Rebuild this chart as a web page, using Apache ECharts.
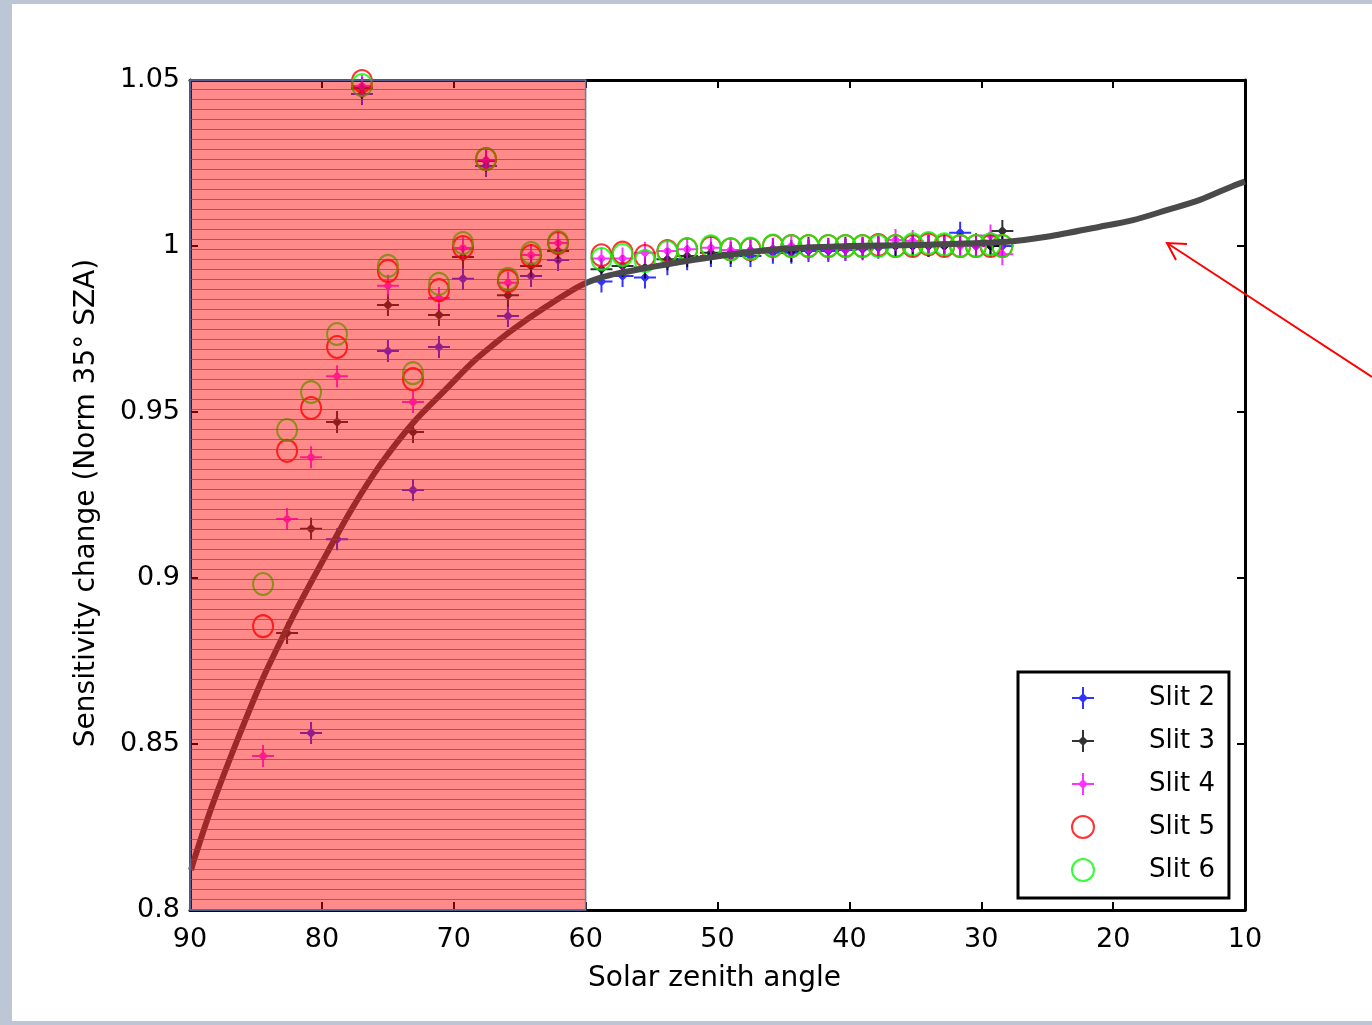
<!DOCTYPE html>
<html><head><meta charset="utf-8">
<script src="https://cdn.jsdelivr.net/npm/echarts@6/dist/echarts.min.js"></script>
<style>
html,body{margin:0;padding:0;width:1372px;height:1025px;overflow:hidden;background:#bcc6d4;}
#panel{position:absolute;left:12px;top:4px;width:1360px;height:1017px;background:#fff;}
#chart{position:absolute;left:0;top:0;width:1372px;height:1025px;}
</style></head><body><div id="panel"></div><div id="chart"></div>
<script>
// Solar zenith angle columns (deg)
const sza = [84.46, 82.64, 80.82, 78.85, 76.96, 74.99, 73.09, 71.12, 69.30, 67.55, 65.89, 64.14, 62.09,
  58.8, 57.2, 55.5, 53.8, 52.3, 50.5, 49.0, 47.5, 45.8, 44.4, 43.1, 41.6, 40.3, 39.0, 37.8, 36.5, 35.2, 34.0, 32.8, 31.6, 30.4, 29.3, 28.4];
const slit2 = [null, null, 0.8533, 0.9117, 1.0458, 0.9684, 0.9265, 0.9696, 0.9901, 1.0241, 0.9789, 0.9910, 0.9958,
  0.9893, 0.991, 0.9905, 0.9945, 0.996, 0.997, 0.997, 0.997, 0.998, 0.998, 0.9985, 0.9985, 0.9988, 0.999, 0.9995, 1.0, 1.0, 1.0, 1.0, 1.004, 1.0, 1.0, 1.0];
const slit3 = [null, 0.8834, 0.9148, 0.9470, 1.0476, 0.9822, 0.9440, 0.9792, 0.9967, 1.0256, 0.9852, 0.9940, 0.9985,
  0.993, 0.994, 0.9935, 0.996, 0.997, 0.998, 0.998, 0.9985, 0.999, 0.9985, 0.9995, 0.9992, 0.9995, 0.9995, 1.0, 1.0, 1.0, 1.0, 1.0, 1.0005, 1.0005, 1.0, 1.0045];
const slit4 = [0.8464, 0.9178, 0.9364, 0.9608, 1.0482, 0.9880, 0.9530, 0.9843, 0.9994, 1.0259, 0.9889, 0.9973, 1.0009,
  0.9962, 0.9962, 0.998, 0.9985, 0.999, 0.9995, 0.9988, 0.9988, 0.9992, 1.0, 0.999, 0.999, 0.999, 0.9995, 1.0, 1.0018, 1.0015, 1.0002, 1.0005, 1.0, 1.0, 1.0032, 0.9975];
const slit5 = [0.8855, 0.9383, 0.9512, 0.9696, 1.0497, 0.9925, 0.9599, 0.9867, 0.9997, 1.0262, 0.9895, 0.9970, 1.0009,
  0.9972, 0.998, 0.997, 0.9985, 0.999, 0.9995, 0.999, 0.999, 1.0, 1.0, 1.0, 1.0, 1.0, 1.0, 1.0003, 1.0, 1.0, 1.0005, 1.0, 1.0, 1.0, 1.0, 1.0];
const slit6 = [0.8982, 0.9446, 0.9560, 0.9735, 1.0485, 0.9940, 0.9617, 0.9886, 1.0009, 1.0262, 0.9901, 0.9979, 1.0012,
  0.9961, 0.9973, 0.9955, 0.9982, 0.999, 0.9999, 0.999, 0.9992, 1.0001, 1.0, 1.0, 1.0, 1.0, 1.0, 1.0, 1.0, 1.0005, 1.0009, 1.0005, 1.0, 1.0, 1.0005, 1.0];
// Normalisation curve
const curveSZA = [89.92, 89.62, 88.33, 86.44, 84.46, 82.64, 81.66, 79.61, 77.64, 75.59, 73.09, 70.51, 68.54, 67.02, 65.50, 62.93, 60.43, 58.91, 57.39, 55.35, 52.84, 50.34, 47.54, 45.26, 39.95, 35.18, 28.05, 25.04, 21.0, 18.49, 15.94, 13.42, 10.91, 10.0];
const curveValue = [0.8120, 0.8160, 0.8313, 0.8509, 0.8699, 0.8849, 0.8925, 0.9075, 0.9214, 0.9340, 0.9467, 0.9572, 0.9651, 0.9702, 0.9749, 0.9819, 0.9880, 0.9904, 0.9919, 0.9934, 0.9952, 0.9967, 0.9982, 0.9991, 1.0000, 1.0003, 1.0013, 1.0028, 1.0058, 1.0078, 1.0108, 1.0139, 1.0181, 1.0194];
// Shaded high-SZA region
const shadeRange = [90, 60];
const xTickLabels = ['10', '20', '30', '40', '50', '60', '70', '80', '90'];
const yTickLabels = ['0.8', '0.85', '0.9', '0.95', '1', '1.05'];
const seriesNames = ['Slit 2', 'Slit 3', 'Slit 4', 'Slit 5', 'Slit 6'];

const FONT = 'DejaVu Sans';
const plusPath = 'path://M0,10H22V12H0Z M10,0H12V22H10Z M11,6L16,11L11,16L6,11Z';

function pts(vals) {
  const out = [];
  vals.forEach((v, i) => { if (v !== null) out.push([sza[i], v]); });
  return out;
}

// hatched pattern for shaded area
const pc = document.createElement('canvas');
pc.width = 8; pc.height = 10;
const pctx = pc.getContext('2d');
pctx.fillStyle = 'rgba(255,0,0,0.46)';
pctx.fillRect(0, 0, 8, 10);
pctx.fillStyle = 'rgba(255,20,20,0.75)';
pctx.fillRect(0, 9, 8, 1);

const plusSeries = (name, vals, color) => ({
  name, type: 'scatter', data: pts(vals), symbol: plusPath, symbolSize: 22, clip: false, z: 2,
  itemStyle: { color: color }, silent: true
});
const circSeries = (name, vals, color) => ({
  name, type: 'scatter', data: pts(vals), symbol: 'circle', symbolSize: [20, 22], clip: false, z: 2,
  itemStyle: { color: 'rgba(0,0,0,0)', borderColor: color, borderWidth: 2 }, silent: true
});

const axisCommonX = {
  type: 'value', min: 10, max: 90, interval: 10, inverse: true,
  axisLine: { show: true, onZero: false, lineStyle: { color: '#000', width: 3 } },
  axisTick: { show: true, inside: true, length: 8, lineStyle: { color: '#000', width: 2 } },
  splitLine: { show: false }
};
const axisCommonY = {
  type: 'value', min: 0.8, max: 1.05, interval: 0.05,
  axisLine: { show: true, onZero: false, lineStyle: { color: '#000', width: 3 } },
  axisTick: { show: true, inside: true, length: 8, lineStyle: { color: '#000', width: 2 } },
  splitLine: { show: false }
};

const chart = echarts.init(document.getElementById('chart'), null, { renderer: 'canvas' });
chart.setOption({
  animation: false,
  backgroundColor: 'transparent',
  grid: { left: 190, right: 127, top: 80, bottom: 115 },
  xAxis: [
    Object.assign({}, axisCommonX, {
      position: 'bottom',
      name: 'Solar zenith angle', nameLocation: 'middle', nameGap: 55,
      nameTextStyle: { fontFamily: FONT, fontSize: 28, color: '#000', padding: [0, 6, 0, 0] },
      axisLabel: { margin: 16, fontFamily: FONT, fontSize: 27, color: '#000',
        formatter: v => xTickLabels[Math.round((v - 10) / 10)] }
    }),
    Object.assign({}, axisCommonX, { position: 'top', axisLabel: { show: false } })
  ],
  yAxis: [
    Object.assign({}, axisCommonY, {
      position: 'left',
      name: 'Sensitivity change (Norm 35° SZA)', nameLocation: 'middle', nameGap: 89,
      nameTextStyle: { fontFamily: FONT, fontSize: 28, color: '#000', padding: [0, 16, 0, 0] },
      axisLabel: { margin: 10, fontFamily: FONT, fontSize: 27, color: '#000',
        formatter: v => yTickLabels[Math.round((v - 0.8) / 0.05)] }
    }),
    Object.assign({}, axisCommonY, { position: 'right', axisLabel: { show: false } })
  ],
  legend: {
    data: seriesNames, orient: 'vertical', left: 1018, top: 672,
    padding: [13, 14, 15, 53], itemGap: 17, itemWidth: 22, itemHeight: 22,
    backgroundColor: '#fff', borderColor: '#000', borderWidth: 3, borderRadius: 0,
    textStyle: { fontFamily: FONT, fontSize: 26, color: '#000', lineHeight: 26, padding: [0, 0, 0, 50] },
    selectedMode: false
  },
  series: [
    plusSeries('Slit 2', slit2, '#0000ff'),
    plusSeries('Slit 3', slit3, '#000000'),
    plusSeries('Slit 4', slit4, '#ff00ff'),
    circSeries('Slit 5', slit5, '#ff0000'),
    circSeries('Slit 6', slit6, '#00ff00'),
    {
      name: 'curve', type: 'line', z: 3, clip: false, silent: true,
      data: curveSZA.map((s, i) => [s, curveValue[i]]),
      showSymbol: false, symbol: 'none', smooth: 0.3,
      lineStyle: { color: '#4a4a4a', width: 6 },
      markArea: {
        silent: true, z: 10,
        itemStyle: { color: { image: pc, repeat: 'repeat' }, borderColor: '#4f7fbf', borderWidth: 1.5 },
        label: { show: false },
        emphasis: { disabled: true },
        data: [[{ xAxis: shadeRange[0], yAxis: 1.0509 }, { xAxis: shadeRange[1], yAxis: 0.8 }]]
      }
    }
  ],
  graphic: [
    { type: 'polyline', z: 100, silent: true,
      shape: { points: [[1372, 377], [1167, 243]] },
      style: { stroke: '#ff0000', lineWidth: 2, fill: null } },
    { type: 'polyline', z: 100, silent: true,
      shape: { points: [[1187, 244], [1167, 243], [1176, 260]] },
      style: { stroke: '#ff0000', lineWidth: 2, fill: null } }
  ]
});
</script></body></html>
